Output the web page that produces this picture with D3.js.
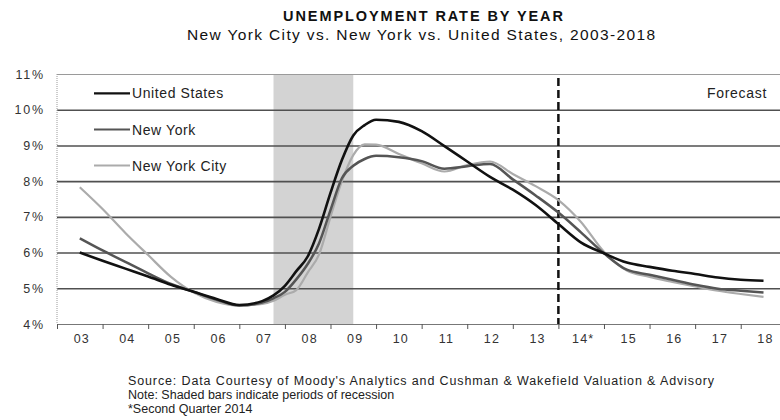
<!DOCTYPE html>
<html><head><meta charset="utf-8">
<script src="https://cdn.jsdelivr.net/npm/d3@7/dist/d3.min.js"></script>
<style>
html,body{margin:0;padding:0;background:#fff;}
svg{display:block;font-family:"Liberation Sans",Arimo,Arial,sans-serif;}
</style></head>
<body>
<svg id="chart" width="780" height="420"></svg>
<script>
// ---------------- data ----------------
const categories = ["03","04","05","06","07","08","09","10","11","12","13","14*","15","16","17","18"];
const times = [2003.5,2004,2004.5,2005,2005.5,2006,2006.5,2007,2007.5,2007.75,2008,2008.25,2008.5,2008.75,2009,2009.25,2009.5,2009.75,2010,2010.5,2011,2011.5,2012,2012.5,2013,2013.5,2014,2014.5,2015,2015.5,2016,2016.5,2017,2017.5,2018,2018.5];
const usRate  = [6.00,5.77,5.55,5.33,5.10,4.90,4.70,4.53,4.64,4.80,5.07,5.48,5.89,6.67,7.67,8.59,9.28,9.57,9.72,9.66,9.40,8.98,8.55,8.12,7.76,7.33,6.80,6.28,5.98,5.72,5.60,5.49,5.40,5.30,5.24,5.21];
const nyRate  = [6.40,6.06,5.74,5.42,5.12,4.90,4.68,4.52,4.60,4.72,4.90,5.25,5.68,6.26,7.19,8.08,8.43,8.62,8.71,8.67,8.56,8.35,8.42,8.48,8.05,7.60,7.12,6.56,5.98,5.52,5.38,5.24,5.10,4.99,4.93,4.88];
const nycRate = [7.83,7.22,6.55,5.93,5.32,4.88,4.62,4.52,4.56,4.65,4.82,4.95,5.44,5.95,7.00,8.00,8.73,9.03,9.02,8.76,8.50,8.27,8.45,8.55,8.20,7.86,7.47,6.85,6.02,5.50,5.32,5.18,5.05,4.93,4.84,4.76];
const seriesNames = ["United States","New York","New York City"];
const yTicks = [4,5,6,7,8,9,10,11];
const recession = [2007.75, 2009.5];
const forecastStart = 2014;
const titleText = "UNEMPLOYMENT RATE BY YEAR";
const subtitleText = "New York City vs. New York vs. United States,  2003-2018";
const notes = ["Source: Data Courtesy of Moody's Analytics and Cushman & Wakefield Valuation & Advisory",
               "Note: Shaded bars indicate periods of recession",
               "*Second Quarter 2014"];

// ---------------- layout ----------------
const FONT = "'Liberation Sans', Arimo, Arial, sans-serif";
const svg = d3.select("#chart");
const L = 57, R = 786.3, T = 74, B = 324;

const x = d3.scaleLinear().domain([2003, 2019]).range([L, R]);
const xBand = d3.scaleBand().domain(categories).range([L, R]).padding(0);
const y = d3.scaleLinear().domain([4, 11]).range([B, T]);

// recession shading
svg.append("rect")
  .attr("x", x(recession[0])).attr("y", y(11))
  .attr("width", x(recession[1]) - x(recession[0]))
  .attr("height", y(4) - y(11))
  .attr("fill", "#d3d3d3");

// gridlines
const grid = svg.append("g").attr("transform", `translate(${L},0)`)
  .call(d3.axisLeft(y).tickValues(yTicks.filter(v => v > 4)).tickSize(-(R - L)).tickFormat(""));
grid.select(".domain").remove();
grid.selectAll(".tick line")
  .attr("stroke", d => d === 11 ? "#9a9a9a" : "#505050")
  .attr("stroke-width", d => d === 11 ? 1.2 : 1.6);

// left dotted axis line
svg.append("line").attr("x1", L).attr("x2", L).attr("y1", T).attr("y2", B)
  .attr("stroke", "#9a9a9a").attr("stroke-width", 1).attr("stroke-dasharray", "1,1");

// y labels
const yAx = svg.append("g").attr("transform", `translate(${L},0)`)
  .call(d3.axisLeft(y).tickValues(yTicks).tickSize(0).tickPadding(12).tickFormat(d => d + "%"));
yAx.select(".domain").remove();
yAx.selectAll("text").attr("font-size", 12.5).attr("fill", "#333")
  .attr("letter-spacing", "1.8px").attr("font-family", FONT);

// x axis: boundary ticks
const xTickAx = svg.append("g").attr("transform", `translate(0,${B})`)
  .call(d3.axisBottom(x).tickValues(d3.range(2003, 2019)).tickSize(5).tickFormat(""));
xTickAx.select(".domain").attr("stroke", "#777").attr("stroke-width", 1);
xTickAx.selectAll(".tick line").attr("stroke", "#555");

// x labels (band centres)
const xLab = svg.append("g").attr("transform", `translate(2,${B})`)
  .call(d3.axisBottom(xBand).tickSize(0).tickPadding(10));
xLab.select(".domain").remove();
xLab.selectAll("text").attr("font-size", 12.5).attr("fill", "#333")
  .attr("letter-spacing", "1.2px").attr("font-family", FONT);

// forecast dashed line
svg.append("line").attr("x1", x(forecastStart)).attr("x2", x(forecastStart))
  .attr("y1", y(11) + 4).attr("y2", y(4))
  .attr("stroke", "#111").attr("stroke-width", 2.5).attr("stroke-dasharray", "8,4");

// series lines
const styles = [
  {vals: usRate,  color: "#111111", width: 2.6},
  {vals: nyRate,  color: "#555555", width: 2.5},
  {vals: nycRate, color: "#ababab", width: 2.2}
];
const line = d3.line().x((d, i) => x(times[i])).y(d => y(d)).curve(d3.curveMonotoneX);
[2, 1, 0].forEach(k => {
  svg.append("path").datum(styles[k].vals)
    .attr("fill", "none").attr("stroke", styles[k].color)
    .attr("stroke-width", styles[k].width).attr("d", line);
});

// legend
const legY = [93.3, 129.5, 165.5];
seriesNames.forEach((n, i) => {
  svg.append("line").attr("x1", 94).attr("x2", 130).attr("y1", legY[i]).attr("y2", legY[i])
    .attr("stroke", styles[i].color).attr("stroke-width", i === 2 ? 1.8 : 2.2);
  svg.append("text").attr("x", 132).attr("y", legY[i] + 5).text(n)
    .attr("font-size", 14).attr("letter-spacing", "0.6px").attr("fill", "#222");
});

// forecast label
svg.append("text").attr("x", 767).attr("y", 97.5).attr("text-anchor", "end")
  .text("Forecast").attr("font-size", 14).attr("letter-spacing", "0.7px").attr("fill", "#222");

// titles
svg.append("text").attr("x", 283).attr("y", 21).text(titleText)
  .attr("font-size", 14.5).attr("font-weight", "bold").attr("fill", "#111")
  .attr("textLength", 280).attr("lengthAdjust", "spacing");
svg.append("text").attr("x", 187).attr("y", 40).text(subtitleText)
  .attr("font-size", 15.5).attr("fill", "#111")
  .attr("textLength", 468).attr("lengthAdjust", "spacing");

// footnotes
const noteW = [586, null, null];
notes.forEach((t, i) => {
  const el = svg.append("text").attr("x", 128).attr("y", 385 + i * 14).text(t)
    .attr("font-size", 12.5).attr("fill", "#222");
  if (noteW[i]) el.attr("textLength", noteW[i]).attr("lengthAdjust", "spacing");
});
</script>
</body></html>
